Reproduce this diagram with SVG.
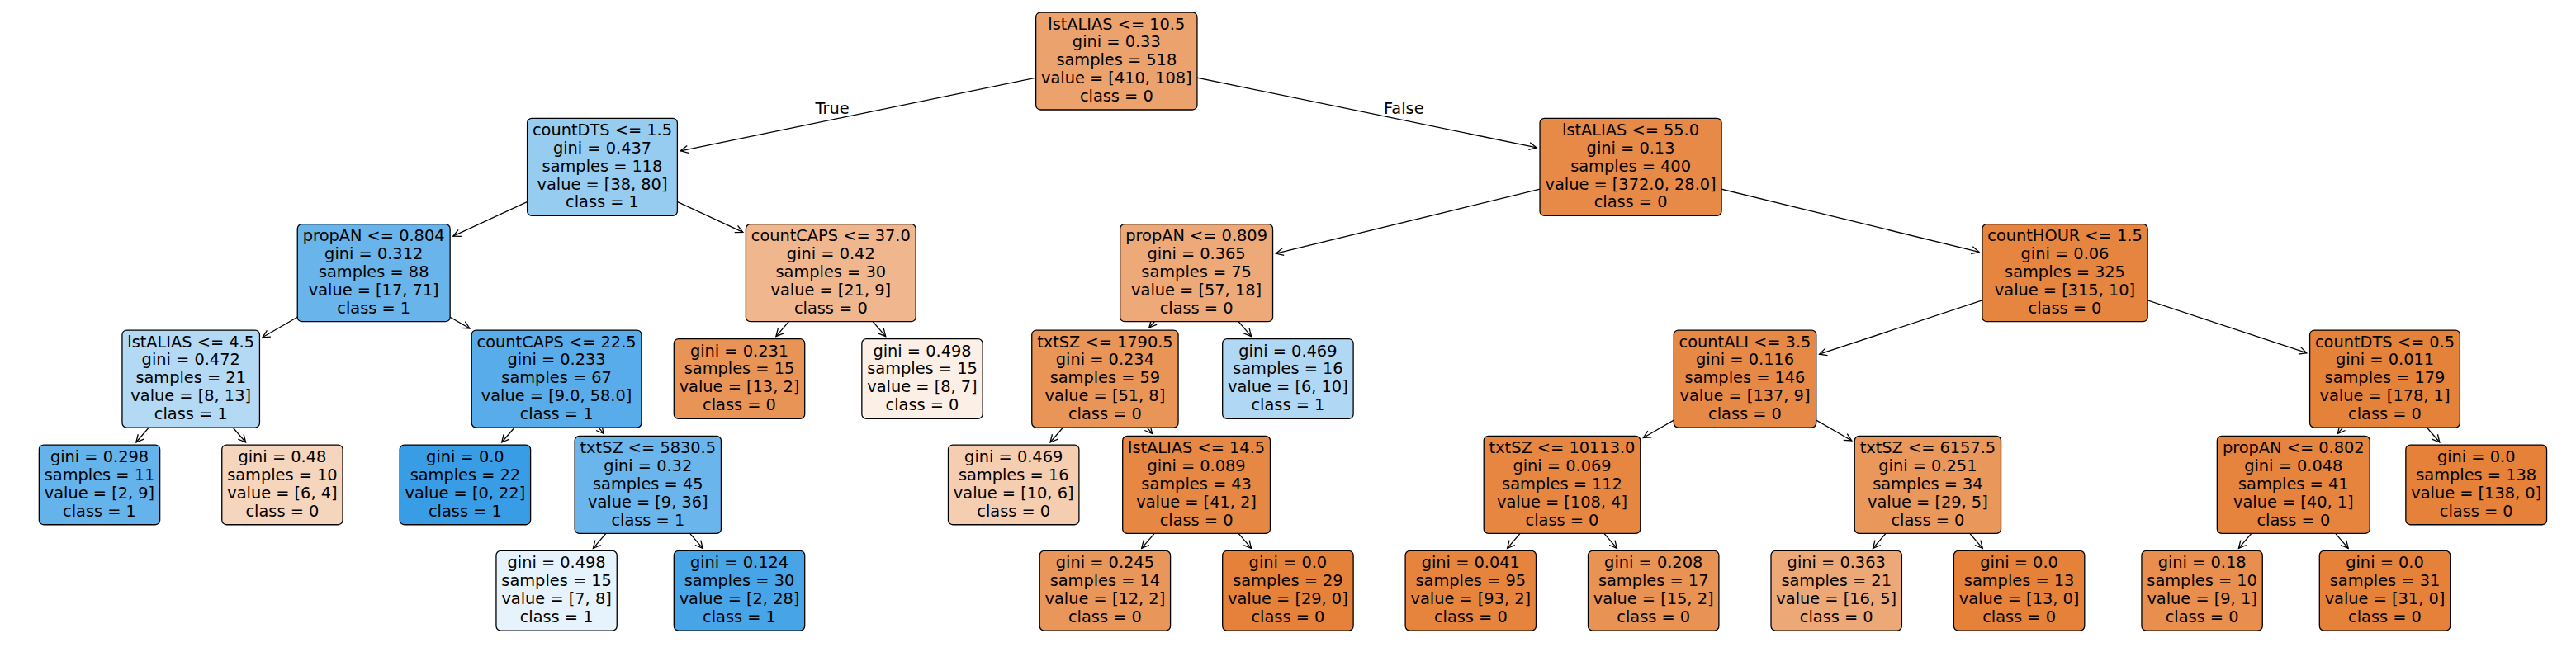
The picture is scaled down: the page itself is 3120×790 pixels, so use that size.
<svg xmlns="http://www.w3.org/2000/svg" width="3120" height="790" viewBox="0 0 3120 790">
<style>
.n rect{stroke:#000;stroke-width:1.3}
text{font-family:"DejaVu Sans","Liberation Sans",sans-serif;font-size:19.35px;fill:#000;text-anchor:middle}
.e line{stroke:#000;stroke-width:1.3;fill:none;marker-end:url(#ah)}
.lbl{text-anchor:start}
</style>
<defs>
<marker id="ah" markerUnits="userSpaceOnUse" viewBox="-11 -6 13 12" markerWidth="13" markerHeight="12" refX="0" refY="0" orient="auto" overflow="visible">
<path d="M-9,-4.5 L0,0 L-9,4.5" fill="none" stroke="#000" stroke-width="1.3"/>
</marker>
</defs>
<rect width="3120" height="790" fill="#fff"/>
<g id="connectors" class="e">
<line x1="1352.3" y1="74" x2="824.3" y2="182.8"/>
<line x1="1352.3" y1="74" x2="1861.1" y2="178.9"/>
<line x1="729.5" y1="202.35" x2="548.8" y2="286.15"/>
<line x1="729.5" y1="202.35" x2="899.8" y2="281.3"/>
<line x1="452.7" y1="330.7" x2="317.9" y2="408.8"/>
<line x1="452.7" y1="330.7" x2="568.9" y2="398.0"/>
<line x1="231.2" y1="459.05" x2="164.8" y2="536.0"/>
<line x1="231.2" y1="459.05" x2="297.6" y2="536.0"/>
<line x1="674.1" y1="459.05" x2="607.7" y2="536.0"/>
<line x1="674.1" y1="459.05" x2="731.3" y2="525.4"/>
<line x1="784.8" y1="587.4" x2="718.4" y2="664.4"/>
<line x1="784.8" y1="587.4" x2="851.2" y2="664.4"/>
<line x1="1006.3" y1="330.7" x2="939.9" y2="407.7"/>
<line x1="1006.3" y1="330.7" x2="1072.7" y2="407.7"/>
<line x1="1975.05" y1="202.35" x2="1545.4" y2="307.2"/>
<line x1="1975.05" y1="202.35" x2="2397.0" y2="305.3"/>
<line x1="1449.1" y1="330.7" x2="1391.9" y2="397.0"/>
<line x1="1449.1" y1="330.7" x2="1515.6" y2="407.7"/>
<line x1="1338.4" y1="459.05" x2="1272.0" y2="536.0"/>
<line x1="1338.4" y1="459.05" x2="1395.6" y2="525.4"/>
<line x1="1449.1" y1="587.4" x2="1382.7" y2="664.4"/>
<line x1="1449.1" y1="587.4" x2="1515.6" y2="664.4"/>
<line x1="2501" y1="330.7" x2="2203.6" y2="429.2"/>
<line x1="2501" y1="330.7" x2="2793.8" y2="427.7"/>
<line x1="2113.5" y1="459.05" x2="1990.3" y2="530.5"/>
<line x1="2113.5" y1="459.05" x2="2242.8" y2="534.0"/>
<line x1="1892" y1="587.4" x2="1825.6" y2="664.4"/>
<line x1="1892" y1="587.4" x2="1958.4" y2="664.4"/>
<line x1="2334.9" y1="587.4" x2="2268.5" y2="664.4"/>
<line x1="2334.9" y1="587.4" x2="2401.3" y2="664.4"/>
<line x1="2888.5" y1="459.05" x2="2831.3" y2="525.4"/>
<line x1="2888.5" y1="459.05" x2="2954.9" y2="536.0"/>
<line x1="2777.8" y1="587.4" x2="2711.4" y2="664.4"/>
<line x1="2777.8" y1="587.4" x2="2844.2" y2="664.4"/>
</g>
<text x="1028.6" y="138.2" style="text-anchor:end">True</text>
<text x="1676" y="138.2" class="lbl">False</text>

<g id="node0" class="n"><rect x="1254.65" y="15" width="195.3" height="118" rx="5.5" fill="#eca26d"/>
<text><tspan x="1352.3" y="35.5">lstALIAS &lt;= 10.5</tspan><tspan x="1352.3" y="57.4">gini = 0.33</tspan><tspan x="1352.3" y="79.3">samples = 518</tspan><tspan x="1352.3" y="101.2">value = [410, 108]</tspan><tspan x="1352.3" y="123.1">class = 0</tspan></text></g>

<g id="node1" class="n"><rect x="638.6" y="143.35" width="181.8" height="118" rx="5.5" fill="#97ccf1"/>
<text><tspan x="729.5" y="163.85">countDTS &lt;= 1.5</tspan><tspan x="729.5" y="185.75">gini = 0.437</tspan><tspan x="729.5" y="207.65">samples = 118</tspan><tspan x="729.5" y="229.55">value = [38, 80]</tspan><tspan x="729.5" y="251.45">class = 1</tspan></text></g>

<g id="node2" class="n"><rect x="360.25" y="271.7" width="184.9" height="118" rx="5.5" fill="#68b4eb"/>
<text><tspan x="452.7" y="292.2">propAN &lt;= 0.804</tspan><tspan x="452.7" y="314.1">gini = 0.312</tspan><tspan x="452.7" y="336">samples = 88</tspan><tspan x="452.7" y="357.9">value = [17, 71]</tspan><tspan x="452.7" y="379.8">class = 1</tspan></text></g>

<g id="node3" class="n"><rect x="147.95" y="400.05" width="166.5" height="118" rx="5.5" fill="#b3d9f5"/>
<text><tspan x="231.2" y="420.55">lstALIAS &lt;= 4.5</tspan><tspan x="231.2" y="442.45">gini = 0.472</tspan><tspan x="231.2" y="464.35">samples = 21</tspan><tspan x="231.2" y="486.25">value = [8, 13]</tspan><tspan x="231.2" y="508.15">class = 1</tspan></text></g>

<g id="node4" class="n"><rect x="47.35" y="539.05" width="146.3" height="96.7" rx="5.5" fill="#65b3eb"/>
<text><tspan x="120.5" y="559.85">gini = 0.298</tspan><tspan x="120.5" y="581.75">samples = 11</tspan><tspan x="120.5" y="603.65">value = [2, 9]</tspan><tspan x="120.5" y="625.55">class = 1</tspan></text></g>

<g id="node5" class="n"><rect x="268.75" y="539.05" width="146.3" height="96.7" rx="5.5" fill="#f6d5bd"/>
<text><tspan x="341.9" y="559.85">gini = 0.48</tspan><tspan x="341.9" y="581.75">samples = 10</tspan><tspan x="341.9" y="603.65">value = [6, 4]</tspan><tspan x="341.9" y="625.55">class = 0</tspan></text></g>

<g id="node6" class="n"><rect x="571.2" y="400.05" width="205.8" height="118" rx="5.5" fill="#58ace9"/>
<text><tspan x="674.1" y="420.55">countCAPS &lt;= 22.5</tspan><tspan x="674.1" y="442.45">gini = 0.233</tspan><tspan x="674.1" y="464.35">samples = 67</tspan><tspan x="674.1" y="486.25">value = [9.0, 58.0]</tspan><tspan x="674.1" y="508.15">class = 1</tspan></text></g>

<g id="node7" class="n"><rect x="484.2" y="539.05" width="158.4" height="96.7" rx="5.5" fill="#399de5"/>
<text><tspan x="563.4" y="559.85">gini = 0.0</tspan><tspan x="563.4" y="581.75">samples = 22</tspan><tspan x="563.4" y="603.65">value = [0, 22]</tspan><tspan x="563.4" y="625.55">class = 1</tspan></text></g>

<g id="node8" class="n"><rect x="696.15" y="528.4" width="177.3" height="118" rx="5.5" fill="#6ab6ec"/>
<text><tspan x="784.8" y="548.9">txtSZ &lt;= 5830.5</tspan><tspan x="784.8" y="570.8">gini = 0.32</tspan><tspan x="784.8" y="592.7">samples = 45</tspan><tspan x="784.8" y="614.6">value = [9, 36]</tspan><tspan x="784.8" y="636.5">class = 1</tspan></text></g>

<g id="node9" class="n"><rect x="600.95" y="667.4" width="146.3" height="96.7" rx="5.5" fill="#e6f3fc"/>
<text><tspan x="674.1" y="688.2">gini = 0.498</tspan><tspan x="674.1" y="710.1">samples = 15</tspan><tspan x="674.1" y="732">value = [7, 8]</tspan><tspan x="674.1" y="753.9">class = 1</tspan></text></g>

<g id="node10" class="n"><rect x="816.3" y="667.4" width="158.4" height="96.7" rx="5.5" fill="#47a4e7"/>
<text><tspan x="895.5" y="688.2">gini = 0.124</tspan><tspan x="895.5" y="710.1">samples = 30</tspan><tspan x="895.5" y="732">value = [2, 28]</tspan><tspan x="895.5" y="753.9">class = 1</tspan></text></g>

<g id="node11" class="n"><rect x="903.4" y="271.7" width="205.8" height="118" rx="5.5" fill="#f0b78e"/>
<text><tspan x="1006.3" y="292.2">countCAPS &lt;= 37.0</tspan><tspan x="1006.3" y="314.1">gini = 0.42</tspan><tspan x="1006.3" y="336">samples = 30</tspan><tspan x="1006.3" y="357.9">value = [21, 9]</tspan><tspan x="1006.3" y="379.8">class = 0</tspan></text></g>

<g id="node12" class="n"><rect x="816.3" y="410.7" width="158.4" height="96.7" rx="5.5" fill="#e99457"/>
<text><tspan x="895.5" y="431.5">gini = 0.231</tspan><tspan x="895.5" y="453.4">samples = 15</tspan><tspan x="895.5" y="475.3">value = [13, 2]</tspan><tspan x="895.5" y="497.2">class = 0</tspan></text></g>

<g id="node13" class="n"><rect x="1043.85" y="410.7" width="146.3" height="96.7" rx="5.5" fill="#fcefe6"/>
<text><tspan x="1117" y="431.5">gini = 0.498</tspan><tspan x="1117" y="453.4">samples = 15</tspan><tspan x="1117" y="475.3">value = [8, 7]</tspan><tspan x="1117" y="497.2">class = 0</tspan></text></g>

<g id="node14" class="n"><rect x="1865.05" y="143.35" width="220" height="118" rx="5.5" fill="#e78a48"/>
<text><tspan x="1975.05" y="163.85">lstALIAS &lt;= 55.0</tspan><tspan x="1975.05" y="185.75">gini = 0.13</tspan><tspan x="1975.05" y="207.65">samples = 400</tspan><tspan x="1975.05" y="229.55">value = [372.0, 28.0]</tspan><tspan x="1975.05" y="251.45">class = 0</tspan></text></g>

<g id="node15" class="n"><rect x="1356.65" y="271.7" width="184.9" height="118" rx="5.5" fill="#eda978"/>
<text><tspan x="1449.1" y="292.2">propAN &lt;= 0.809</tspan><tspan x="1449.1" y="314.1">gini = 0.365</tspan><tspan x="1449.1" y="336">samples = 75</tspan><tspan x="1449.1" y="357.9">value = [57, 18]</tspan><tspan x="1449.1" y="379.8">class = 0</tspan></text></g>

<g id="node16" class="n"><rect x="1249.75" y="400.05" width="177.3" height="118" rx="5.5" fill="#e99558"/>
<text><tspan x="1338.4" y="420.55">txtSZ &lt;= 1790.5</tspan><tspan x="1338.4" y="442.45">gini = 0.234</tspan><tspan x="1338.4" y="464.35">samples = 59</tspan><tspan x="1338.4" y="486.25">value = [51, 8]</tspan><tspan x="1338.4" y="508.15">class = 0</tspan></text></g>

<g id="node17" class="n"><rect x="1148.5" y="539.05" width="158.4" height="96.7" rx="5.5" fill="#f5cdb0"/>
<text><tspan x="1227.7" y="559.85">gini = 0.469</tspan><tspan x="1227.7" y="581.75">samples = 16</tspan><tspan x="1227.7" y="603.65">value = [10, 6]</tspan><tspan x="1227.7" y="625.55">class = 0</tspan></text></g>

<g id="node18" class="n"><rect x="1359.7" y="528.4" width="178.8" height="118" rx="5.5" fill="#e68743"/>
<text><tspan x="1449.1" y="548.9">lstALIAS &lt;= 14.5</tspan><tspan x="1449.1" y="570.8">gini = 0.089</tspan><tspan x="1449.1" y="592.7">samples = 43</tspan><tspan x="1449.1" y="614.6">value = [41, 2]</tspan><tspan x="1449.1" y="636.5">class = 0</tspan></text></g>

<g id="node19" class="n"><rect x="1259.2" y="667.4" width="158.4" height="96.7" rx="5.5" fill="#e9965a"/>
<text><tspan x="1338.4" y="688.2">gini = 0.245</tspan><tspan x="1338.4" y="710.1">samples = 14</tspan><tspan x="1338.4" y="732">value = [12, 2]</tspan><tspan x="1338.4" y="753.9">class = 0</tspan></text></g>

<g id="node20" class="n"><rect x="1480.7" y="667.4" width="158.4" height="96.7" rx="5.5" fill="#e58139"/>
<text><tspan x="1559.9" y="688.2">gini = 0.0</tspan><tspan x="1559.9" y="710.1">samples = 29</tspan><tspan x="1559.9" y="732">value = [29, 0]</tspan><tspan x="1559.9" y="753.9">class = 0</tspan></text></g>

<g id="node21" class="n"><rect x="1480.7" y="410.7" width="158.4" height="96.7" rx="5.5" fill="#b0d8f5"/>
<text><tspan x="1559.9" y="431.5">gini = 0.469</tspan><tspan x="1559.9" y="453.4">samples = 16</tspan><tspan x="1559.9" y="475.3">value = [6, 10]</tspan><tspan x="1559.9" y="497.2">class = 1</tspan></text></g>

<g id="node22" class="n"><rect x="2400.9" y="271.7" width="200.2" height="118" rx="5.5" fill="#e6853f"/>
<text><tspan x="2501" y="292.2">countHOUR &lt;= 1.5</tspan><tspan x="2501" y="314.1">gini = 0.06</tspan><tspan x="2501" y="336">samples = 325</tspan><tspan x="2501" y="357.9">value = [315, 10]</tspan><tspan x="2501" y="379.8">class = 0</tspan></text></g>

<g id="node23" class="n"><rect x="2027.25" y="400.05" width="172.5" height="118" rx="5.5" fill="#e78946"/>
<text><tspan x="2113.5" y="420.55">countALI &lt;= 3.5</tspan><tspan x="2113.5" y="442.45">gini = 0.116</tspan><tspan x="2113.5" y="464.35">samples = 146</tspan><tspan x="2113.5" y="486.25">value = [137, 9]</tspan><tspan x="2113.5" y="508.15">class = 0</tspan></text></g>

<g id="node24" class="n"><rect x="1797.2" y="528.4" width="189.6" height="118" rx="5.5" fill="#e68640"/>
<text><tspan x="1892" y="548.9">txtSZ &lt;= 10113.0</tspan><tspan x="1892" y="570.8">gini = 0.069</tspan><tspan x="1892" y="592.7">samples = 112</tspan><tspan x="1892" y="614.6">value = [108, 4]</tspan><tspan x="1892" y="636.5">class = 0</tspan></text></g>

<g id="node25" class="n"><rect x="1702.1" y="667.4" width="158.4" height="96.7" rx="5.5" fill="#e6843d"/>
<text><tspan x="1781.3" y="688.2">gini = 0.041</tspan><tspan x="1781.3" y="710.1">samples = 95</tspan><tspan x="1781.3" y="732">value = [93, 2]</tspan><tspan x="1781.3" y="753.9">class = 0</tspan></text></g>

<g id="node26" class="n"><rect x="1923.5" y="667.4" width="158.4" height="96.7" rx="5.5" fill="#e89253"/>
<text><tspan x="2002.7" y="688.2">gini = 0.208</tspan><tspan x="2002.7" y="710.1">samples = 17</tspan><tspan x="2002.7" y="732">value = [15, 2]</tspan><tspan x="2002.7" y="753.9">class = 0</tspan></text></g>

<g id="node27" class="n"><rect x="2246.25" y="528.4" width="177.3" height="118" rx="5.5" fill="#e9975b"/>
<text><tspan x="2334.9" y="548.9">txtSZ &lt;= 6157.5</tspan><tspan x="2334.9" y="570.8">gini = 0.251</tspan><tspan x="2334.9" y="592.7">samples = 34</tspan><tspan x="2334.9" y="614.6">value = [29, 5]</tspan><tspan x="2334.9" y="636.5">class = 0</tspan></text></g>

<g id="node28" class="n"><rect x="2145" y="667.4" width="158.4" height="96.7" rx="5.5" fill="#eda877"/>
<text><tspan x="2224.2" y="688.2">gini = 0.363</tspan><tspan x="2224.2" y="710.1">samples = 21</tspan><tspan x="2224.2" y="732">value = [16, 5]</tspan><tspan x="2224.2" y="753.9">class = 0</tspan></text></g>

<g id="node29" class="n"><rect x="2366.4" y="667.4" width="158.4" height="96.7" rx="5.5" fill="#e58139"/>
<text><tspan x="2445.6" y="688.2">gini = 0.0</tspan><tspan x="2445.6" y="710.1">samples = 13</tspan><tspan x="2445.6" y="732">value = [13, 0]</tspan><tspan x="2445.6" y="753.9">class = 0</tspan></text></g>

<g id="node30" class="n"><rect x="2797.6" y="400.05" width="181.8" height="118" rx="5.5" fill="#e5823a"/>
<text><tspan x="2888.5" y="420.55">countDTS &lt;= 0.5</tspan><tspan x="2888.5" y="442.45">gini = 0.011</tspan><tspan x="2888.5" y="464.35">samples = 179</tspan><tspan x="2888.5" y="486.25">value = [178, 1]</tspan><tspan x="2888.5" y="508.15">class = 0</tspan></text></g>

<g id="node31" class="n"><rect x="2685.35" y="528.4" width="184.9" height="118" rx="5.5" fill="#e6843e"/>
<text><tspan x="2777.8" y="548.9">propAN &lt;= 0.802</tspan><tspan x="2777.8" y="570.8">gini = 0.048</tspan><tspan x="2777.8" y="592.7">samples = 41</tspan><tspan x="2777.8" y="614.6">value = [40, 1]</tspan><tspan x="2777.8" y="636.5">class = 0</tspan></text></g>

<g id="node32" class="n"><rect x="2593.95" y="667.4" width="146.3" height="96.7" rx="5.5" fill="#e88f4f"/>
<text><tspan x="2667.1" y="688.2">gini = 0.18</tspan><tspan x="2667.1" y="710.1">samples = 10</tspan><tspan x="2667.1" y="732">value = [9, 1]</tspan><tspan x="2667.1" y="753.9">class = 0</tspan></text></g>

<g id="node33" class="n"><rect x="2809.3" y="667.4" width="158.4" height="96.7" rx="5.5" fill="#e58139"/>
<text><tspan x="2888.5" y="688.2">gini = 0.0</tspan><tspan x="2888.5" y="710.1">samples = 31</tspan><tspan x="2888.5" y="732">value = [31, 0]</tspan><tspan x="2888.5" y="753.9">class = 0</tspan></text></g>

<g id="node34" class="n"><rect x="2913.85" y="539.05" width="170.7" height="96.7" rx="5.5" fill="#e58139"/>
<text><tspan x="2999.2" y="559.85">gini = 0.0</tspan><tspan x="2999.2" y="581.75">samples = 138</tspan><tspan x="2999.2" y="603.65">value = [138, 0]</tspan><tspan x="2999.2" y="625.55">class = 0</tspan></text></g>
</svg>
